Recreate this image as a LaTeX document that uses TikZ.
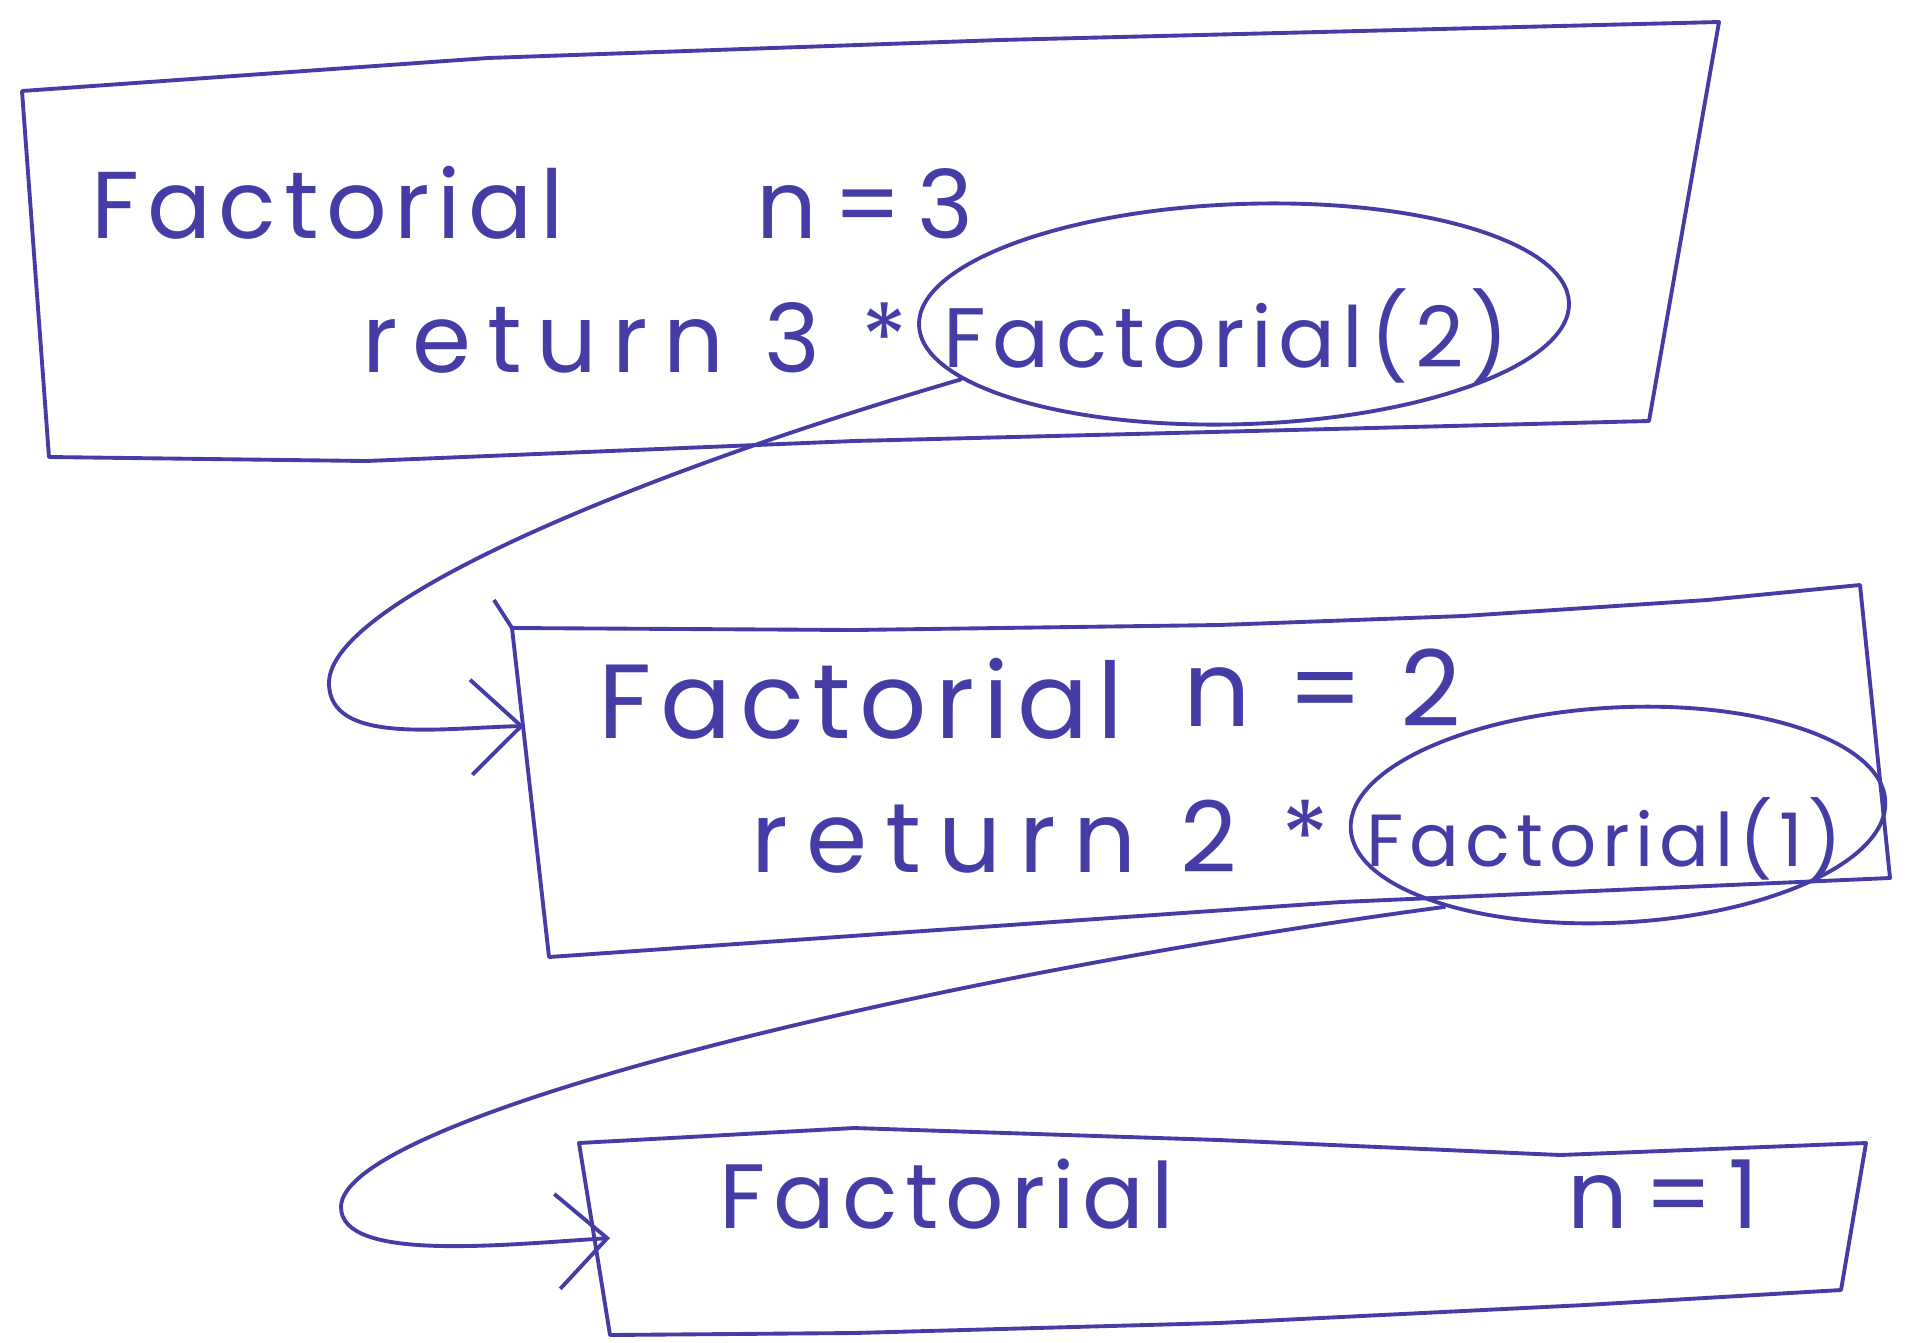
\documentclass[tikz,border=0pt]{standalone}
\usepackage{tikz}
\usepackage{fontspec}
\setmainfont{Poppins}
\usetikzlibrary{shapes.geometric,arrows.meta}
\definecolor{ink}{RGB}{70,60,165}

\begin{document}
\begin{tikzpicture}[x=0.01cm,y=-0.01cm,
  hand/.style={text=ink,font=\fontsize{#1}{#1}\selectfont\addfontfeature{LetterSpace=8},inner sep=0pt,anchor=base west},
  hand/.default=27,
  callout/.style={draw=ink,ellipse,line width=1.1pt,inner sep=0pt},
  frame/.style={draw=ink,line width=1.1pt,line join=round},
  recur/.style={draw=ink,line width=1.1pt,-{Straight Barb[length=0.5cm,width=0.95cm]}}]
\useasboundingbox (0,0) rectangle (1912,1342);

% frame for n=3
\draw[frame] (22,91) -- (488,58) -- (1000,40) -- (1719,22) -- (1649,421) -- (854,441) -- (366,461) -- (49,457) -- cycle;
\node[hand] (t3name) at (91,238) {Factorial};
\node[hand] (t3n) at (756,238) {n\,=\,3};
\node[hand,anchor=base east] (t3ret) at (908,372) {\addfontfeature{LetterSpace=16}return 3 *};
\node[hand=24] (t3call) at (943,367) {Factorial(2)};
\node[callout,rotate=2,minimum width=6.5cm,minimum height=2.2cm] (e3) at (1244,314) {};

% frame for n=2
\draw[frame] (512,628) -- (854,630) -- (1219,625) -- (1463,616) -- (1707,600) -- (1860,585) -- (1890,878) -- (1341,902) -- (549,957) -- cycle;
\draw[frame] (512,628) -- (494,600);
\coordinate (b2in) at (524,726);
\node[hand=30] (t2name) at (598,738) {Factorial};
\node[hand=30] (t2n) at (1183,726) {n = 2};
\node[hand=28,anchor=base east] (t2ret) at (1330,872) {\addfontfeature{LetterSpace=18}return 2 *};
\node[hand=21] (t2call) at (1366,866) {Factorial(1)};
\node[callout,rotate=3,minimum width=5.35cm,minimum height=2.15cm] (e2) at (1618,815) {};

% frame for n=1
\draw[frame] (579,1143) -- (854,1128) -- (1219,1140) -- (1560,1155) -- (1866,1143) -- (1841,1290) -- (1585,1305) -- (1219,1323) -- (854,1333) -- (610,1335) -- cycle;
\coordinate (b3in) at (610,1238);
\node[hand=26] (t1name) at (719,1228) {Factorial};
\node[hand] (t1n) at (1567,1228) {n\,=\,1};

% calls
\draw[recur] (e3.191) .. controls (650,470) and (329,600) .. (329,683) .. controls (329,745) and (440,728) .. (b2in);
\draw[recur] (e2.205) .. controls (900,980) and (341,1120) .. (341,1207) .. controls (341,1262) and (500,1245) .. (b3in);
\end{tikzpicture}
\end{document}
